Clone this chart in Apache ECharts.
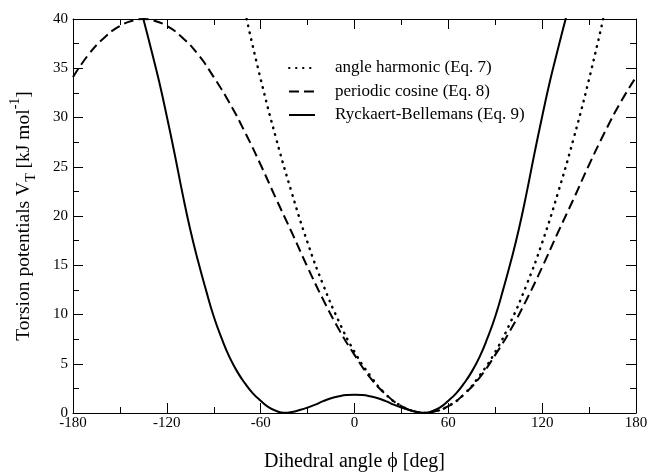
<!DOCTYPE html>
<html lang="en">
  <head>
    <meta charset="UTF-8" />
    <title>Torsion potentials</title>
    <script src="https://cdn.jsdelivr.net/npm/echarts@6/dist/echarts.min.js"></script>
    <style>
      body {
        margin: 0;
        padding: 0;
        background: #fff;
      }
      #main {
        width: 649px;
        height: 473px;
      }
    </style>
  </head>
  <body>
    <div id="main"></div>

    <script>
      // values
      const harmonicPhi = [-69, -60, -50, -40, -30, -20, -10, 0, 10, 20, 30, 40, 45, 50, 60, 70, 80, 90, 100, 110, 120, 130, 140, 150, 159];
      const harmonicV = [40.0, 33.9, 27.8, 22.3, 17.3, 13.0, 9.3, 6.2, 3.8, 1.9, 0.7, 0.1, 0, 0.1, 0.7, 1.9, 3.8, 6.2, 9.3, 13.0, 17.3, 22.3, 27.8, 33.9, 40.0];

      const cosinePhi = [-180, -170, -160, -150, -140, -135, -130, -120, -110, -100, -90, -80, -70, -60, -50, -40, -30, -20, -10, 0, 10, 20, 30, 40, 45, 50, 60, 70, 80, 90, 100, 110, 120, 130, 140, 150, 160, 170, 180];
      const cosineV = [34.1, 36.4, 38.1, 39.3, 39.9, 40.0, 39.9, 39.3, 38.1, 36.4, 34.1, 31.5, 28.5, 25.2, 21.7, 18.3, 14.8, 11.5, 8.5, 5.9, 3.6, 1.9, 0.7, 0.1, 0, 0.1, 0.7, 1.9, 3.6, 5.9, 8.5, 11.5, 14.8, 18.3, 21.7, 25.2, 28.5, 31.5, 34.1];

      const rbPhi = [-140, -135, -130, -125, -120, -115, -110, -105, -100, -95, -90, -85, -80, -75, -70, -65, -60, -55, -50, -45, -40, -35, -30, -25, -20, -15, -10, -5, 0,
        5, 10, 15, 20, 25, 30, 35, 40, 45, 50, 55, 60, 65, 70, 75, 80, 85, 90, 95, 100, 105, 110, 115, 120, 125, 130, 135, 140];
      const rbV = [43.0, 40.0, 36.9, 33.7, 30.1, 26.3, 22.3, 18.6, 15.4, 12.5, 9.8, 7.6, 5.7, 4.2, 3.0, 2.0, 1.25, 0.6, 0.2, 0.02, 0.1, 0.3, 0.55, 0.85, 1.2, 1.5, 1.7, 1.82, 1.85,
        1.82, 1.7, 1.5, 1.2, 0.85, 0.55, 0.3, 0.1, 0.02, 0.2, 0.6, 1.25, 2.0, 3.0, 4.2, 5.7, 7.6, 9.8, 12.5, 15.4, 18.6, 22.3, 26.3, 30.1, 33.7, 36.9, 40.0, 43.0];

      const seriesNames = ["angle harmonic (Eq. 7)", "periodic cosine (Eq. 8)", "Ryckaert-Bellemans (Eq. 9)"];

      function pairs(xs, ys) {
        return xs.map((x, i) => [x, ys[i]]);
      }

      const font = "Liberation Serif";

      const tickStyle = { show: true, inside: true, length: 10, lineStyle: { color: "#000", width: 1 } };
      const minorStyle = { show: true, splitNumber: 2, length: 6, lineStyle: { color: "#000", width: 1 } };
      const lineAxis = { show: true, onZero: false, lineStyle: { color: "#000", width: 1 } };

      const myChart = echarts.init(document.getElementById("main"));
      const option = {
        animation: false,
        backgroundColor: "#fff",
        grid: { left: 73, right: 13, top: 19, bottom: 60, outerBoundsMode: "none" },
        legend: {
          orient: "vertical",
          left: 283,
          top: 54.5,
          itemWidth: 26,
          itemHeight: 14,
          itemGap: 6.5,
          data: seriesNames,
          itemStyle: { opacity: 0 },
          textStyle: {
            fontFamily: font,
            fontSize: 17,
            color: "#000",
            lineHeight: 14,
            padding: [0, 0, 0, 15],
          },
        },
        xAxis: [
          {
            type: "value",
            min: -180,
            max: 180,
            interval: 60,
            name: "Dihedral angle ϕ [deg]",
            nameLocation: "middle",
            nameGap: 39,
            nameTextStyle: { fontFamily: font, fontSize: 20, color: "#000" },
            axisLine: lineAxis,
            axisTick: tickStyle,
            minorTick: minorStyle,
            splitLine: { show: false },
            axisLabel: { fontFamily: font, fontSize: 15, color: "#000", margin: 3 },
          },
          {
            type: "value",
            position: "top",
            min: -180,
            max: 180,
            interval: 60,
            axisLine: lineAxis,
            axisTick: tickStyle,
            minorTick: minorStyle,
            splitLine: { show: false },
            axisLabel: { show: false },
          },
        ],
        yAxis: [
          {
            type: "value",
            min: 0,
            max: 40,
            interval: 5,
            name: "{n|Torsion potentials V}{s|T}{n| [kJ mol}{p|-1}{n|]}",
            nameLocation: "middle",
            nameGap: 34.5,
            nameTextStyle: {
              fontFamily: font,
              fontSize: 19.5,
              color: "#000",
              rich: {
                n: { fontFamily: font, fontSize: 19.5, color: "#000", lineHeight: 30 },
                s: { fontFamily: font, fontSize: 14, color: "#000", lineHeight: 14, verticalAlign: "bottom" },
                p: { fontFamily: font, fontSize: 14, color: "#000", lineHeight: 14, verticalAlign: "top" },
              },
            },
            axisLine: lineAxis,
            axisTick: tickStyle,
            minorTick: minorStyle,
            splitLine: { show: false },
            axisLabel: { fontFamily: font, fontSize: 15, color: "#000", margin: 5 },
          },
          {
            type: "value",
            position: "right",
            min: 0,
            max: 40,
            interval: 5,
            axisLine: lineAxis,
            axisTick: tickStyle,
            minorTick: minorStyle,
            splitLine: { show: false },
            axisLabel: { show: false },
          },
        ],
        series: [
          {
            name: seriesNames[0],
            type: "line",
            data: pairs(harmonicPhi, harmonicV),
            smooth: true,
            symbol: "none",
            color: "#000",
            lineStyle: { color: "#000", width: 2.5, type: [0.5, 6.5], cap: "round" },
          },
          {
            name: seriesNames[1],
            type: "line",
            data: pairs(cosinePhi, cosineV),
            smooth: true,
            symbol: "none",
            color: "#000",
            lineStyle: { color: "#000", width: 2, type: [10, 5] },
          },
          {
            name: seriesNames[2],
            type: "line",
            data: pairs(rbPhi, rbV),
            smooth: true,
            symbol: "none",
            color: "#000",
            lineStyle: { color: "#000", width: 2, type: "solid" },
          },
        ],
      };

      myChart.setOption(option);
    </script>
  </body>
</html>
